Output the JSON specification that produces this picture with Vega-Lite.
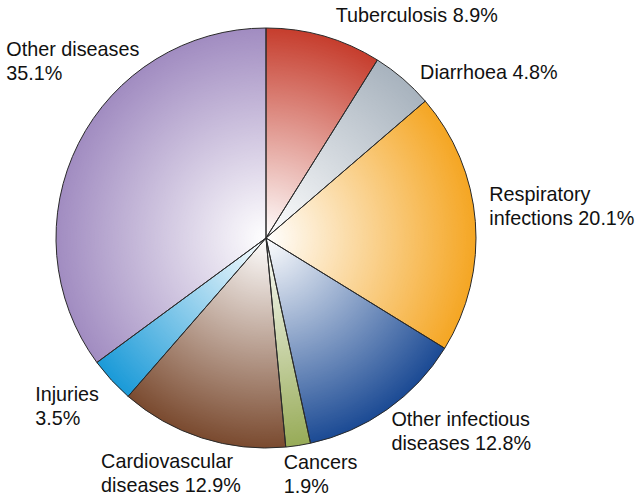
{
  "$schema": "https://vega.github.io/schema/vega-lite/v6.json",
  "width": 420,
  "height": 420,
  "autosize": "none",
  "padding": {"left": 56, "top": 28, "right": 159, "bottom": 51},
  "background": "white",
  "config": {"view": {"stroke": null}},
  "data": {
    "values": [
      {"cause": "Tuberculosis", "pct": 8.9, "order": 1, "label": "Tuberculosis 8.9%"},
      {"cause": "Diarrhoea", "pct": 4.8, "order": 2, "label": "Diarrhoea 4.8%"},
      {"cause": "Respiratory infections", "pct": 20.1, "order": 3, "label": "Respiratory\ninfections 20.1%"},
      {"cause": "Other infectious diseases", "pct": 12.8, "order": 4, "label": "Other infectious\ndiseases 12.8%"},
      {"cause": "Cancers", "pct": 1.9, "order": 5, "label": "Cancers\n1.9%"},
      {"cause": "Cardiovascular diseases", "pct": 12.9, "order": 6, "label": "Cardiovascular\ndiseases 12.9%"},
      {"cause": "Injuries", "pct": 3.5, "order": 7, "label": "Injuries\n3.5%"},
      {"cause": "Other diseases", "pct": 35.1, "order": 8, "label": "Other diseases\n35.1%"}
    ]
  },
  "layer": [
    {
      "mark": {"type": "arc", "strokeWidth": 0},
      "encoding": {
        "theta": {"field": "pct", "type": "quantitative", "stack": true},
        "order": {"field": "order", "type": "quantitative"},
        "color": {
          "field": "cause", "type": "nominal", "legend": null,
          "scale": {
            "domain": ["Tuberculosis", "Diarrhoea", "Respiratory infections", "Other infectious diseases", "Cancers", "Cardiovascular diseases", "Injuries", "Other diseases"],
            "range": ["#c63d2d", "#a8b3be", "#f5a623", "#1b4a94", "#97ab57", "#7a4a2f", "#1a9ad8", "#a18cc1"]
          }
        }
      }
    },
    {
      "data": {"values": [{"whole": 100}]},
      "mark": {
        "type": "arc",
        "fill": {
          "gradient": "radial",
          "x1": 0.5, "y1": 0.5, "r1": 0,
          "x2": 0.5, "y2": 0.5, "r2": 0.5,
          "stops": [
            {"offset": 0, "color": "rgba(255,255,255,1)"},
            {"offset": 1, "color": "rgba(255,255,255,0)"}
          ]
        }
      },
      "encoding": {
        "theta": {"field": "whole", "type": "quantitative", "stack": true}
      }
    },
    {
      "mark": {"type": "arc", "filled": false, "stroke": "#2a2a2a", "strokeWidth": 1},
      "encoding": {
        "theta": {"field": "pct", "type": "quantitative", "stack": true},
        "order": {"field": "order", "type": "quantitative"}
      }
    },
    {
      "mark": {"type": "text", "radius": 231, "dx": 6, "align": "left", "baseline": "middle", "font": "Liberation Sans", "fontSize": 19.8, "lineHeight": 24, "lineBreak": "\n", "color": "#111111"},
      "encoding": {
        "theta": {"field": "pct", "type": "quantitative", "stack": true},
        "order": {"field": "order", "type": "quantitative"},
        "text": {"condition": {"test": "datum.cause === 'Tuberculosis'", "field": "label"}, "value": ""}
      }
    },
    {
      "mark": {"type": "text", "radius": 218, "dx": 12, "align": "left", "baseline": "middle", "font": "Liberation Sans", "fontSize": 19.8, "lineHeight": 24, "lineBreak": "\n", "color": "#111111"},
      "encoding": {
        "theta": {"field": "pct", "type": "quantitative", "stack": true},
        "order": {"field": "order", "type": "quantitative"},
        "text": {"condition": {"test": "datum.cause === 'Diarrhoea'", "field": "label"}, "value": ""}
      }
    },
    {
      "mark": {"type": "text", "radius": 224, "dy": -25, "align": "left", "baseline": "middle", "font": "Liberation Sans", "fontSize": 19.8, "lineHeight": 24, "lineBreak": "\n", "color": "#111111"},
      "encoding": {
        "theta": {"field": "pct", "type": "quantitative", "stack": true},
        "order": {"field": "order", "type": "quantitative"},
        "text": {"condition": {"test": "datum.cause === 'Respiratory infections'", "field": "label"}, "value": ""}
      }
    },
    {
      "mark": {"type": "text", "radius": 238, "dx": -12, "dy": -12, "align": "left", "baseline": "middle", "font": "Liberation Sans", "fontSize": 19.8, "lineHeight": 24, "lineBreak": "\n", "color": "#111111"},
      "encoding": {
        "theta": {"field": "pct", "type": "quantitative", "stack": true},
        "order": {"field": "order", "type": "quantitative"},
        "text": {"condition": {"test": "datum.cause === 'Other infectious diseases'", "field": "label"}, "value": ""}
      }
    },
    {
      "mark": {"type": "text", "radius": 240, "dx": -19, "dy": -12, "align": "left", "baseline": "middle", "font": "Liberation Sans", "fontSize": 19.8, "lineHeight": 24, "lineBreak": "\n", "color": "#111111"},
      "encoding": {
        "theta": {"field": "pct", "type": "quantitative", "stack": true},
        "order": {"field": "order", "type": "quantitative"},
        "text": {"condition": {"test": "datum.cause === 'Cancers'", "field": "label"}, "value": ""}
      }
    },
    {
      "mark": {"type": "text", "radius": 248, "dx": -89, "dy": -12, "align": "left", "baseline": "middle", "font": "Liberation Sans", "fontSize": 19.8, "lineHeight": 24, "lineBreak": "\n", "color": "#111111"},
      "encoding": {
        "theta": {"field": "pct", "type": "quantitative", "stack": true},
        "order": {"field": "order", "type": "quantitative"},
        "text": {"condition": {"test": "datum.cause === 'Cardiovascular diseases'", "field": "label"}, "value": ""}
      }
    },
    {
      "mark": {"type": "text", "radius": 250, "dx": -47, "dy": -12, "align": "left", "baseline": "middle", "font": "Liberation Sans", "fontSize": 19.8, "lineHeight": 24, "lineBreak": "\n", "color": "#111111"},
      "encoding": {
        "theta": {"field": "pct", "type": "quantitative", "stack": true},
        "order": {"field": "order", "type": "quantitative"},
        "text": {"condition": {"test": "datum.cause === 'Injuries'", "field": "label"}, "value": ""}
      }
    },
    {
      "mark": {"type": "text", "radius": 300, "dx": 8, "dy": -53, "align": "left", "baseline": "middle", "font": "Liberation Sans", "fontSize": 19.8, "lineHeight": 24, "lineBreak": "\n", "color": "#111111"},
      "encoding": {
        "theta": {"field": "pct", "type": "quantitative", "stack": true},
        "order": {"field": "order", "type": "quantitative"},
        "text": {"condition": {"test": "datum.cause === 'Other diseases'", "field": "label"}, "value": ""}
      }
    }
  ]
}
